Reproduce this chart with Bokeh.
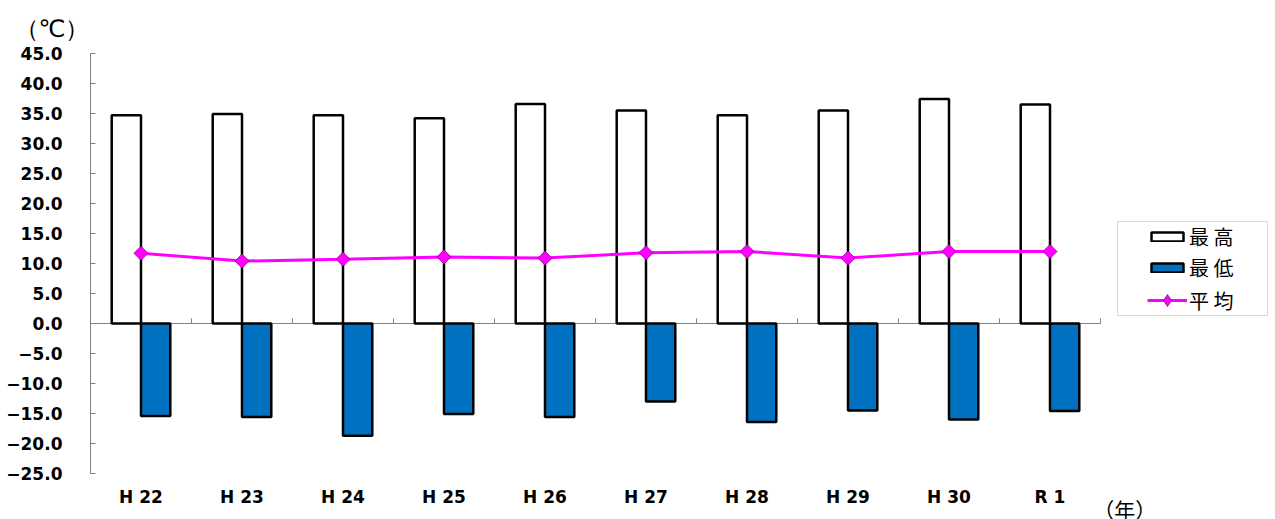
import numpy as np
from bokeh.plotting import figure
from bokeh.models import (ColumnDataSource, FixedTicker, Legend, LegendItem, LinearAxis,
                          Range1d, BoxAnnotation, Title)
from bokeh.embed import file_html
from bokeh.resources import INLINE

# ---- data ----
years = ["H 22", "H 23", "H 24", "H 25", "H 26", "H 27", "H 28", "H 29", "H 30", "R 1"]
high = [34.7, 34.9, 34.7, 34.2, 36.6, 35.5, 34.7, 35.5, 37.4, 36.5]
low = [-15.4, -15.6, -18.7, -15.1, -15.6, -13.0, -16.4, -14.5, -16.0, -14.6]
avg = [11.7, 10.4, 10.7, 11.1, 10.9, 11.8, 12.0, 10.9, 12.0, 12.0]
y_ticks = [-25, -20, -15, -10, -5, 0, 5, 10, 15, 20, 25, 30, 35, 40, 45]
y_tick_labels = ["\u221225.0", "\u221220.0", "\u221215.0", "\u221210.0", "\u22125.0", "0.0",
                 "5.0", "10.0", "15.0", "20.0", "25.0", "30.0", "35.0", "40.0", "45.0"]
series_names = ["最 高", "最 低", "平 均"]
y_unit = "（℃）"
x_unit = "（年）"

GRAY = "#808080"
TICK_FONT = "DejaVu Sans"
CJK = "Noto Sans CJK JP"

n = len(years)
DATA_W = 1010          # pixel width of the category area
FRAME_W = 1180         # frame also hosts the legend on the right
X_UNIT_POS = 10.24     # horizontal place of the "(年)" caption, in category units
xc = np.arange(n) + 0.5
src = ColumnDataSource(dict(x=xc, xh=xc - 0.145, xl=xc + 0.145, high=high, low=low, avg=avg))
bounds = np.arange(n + 1)
tick_src = ColumnDataSource(dict(x=bounds, y0=np.zeros(n + 1), y1=np.full(n + 1, 0.85)))

p = figure(frame_width=FRAME_W, frame_height=420, output_backend="svg", toolbar_location=None,
           x_range=Range1d(0, n * FRAME_W / DATA_W), y_range=Range1d(y_ticks[0], y_ticks[-1]),
           min_border_left=90, min_border_right=0, min_border_top=53, min_border_bottom=30)
p.outline_line_color = None
p.grid.visible = False
p.background_fill_color = "white"

# zero line and category ticks
p.line(x=[bounds[0], bounds[-1]], y=[0, 0], line_color=GRAY, line_width=1)
p.segment(x0="x", y0="y0", x1="x", y1="y1", source=tick_src, line_color=GRAY, line_width=1)

r_high = p.vbar(x="xh", top="high", bottom=0, width=0.29, source=src,
                fill_color="white", line_color="black", line_width=2.5)
r_low = p.vbar(x="xl", top=0, bottom="low", width=0.29, source=src,
               fill_color="#0070C0", line_color="black", line_width=2.5)
r_line = p.line(x="x", y="avg", source=src, line_color="#FF00FF", line_width=3)
r_pts = p.scatter(x="x", y="avg", source=src, marker="square", size=10, angle=np.pi / 4,
                  fill_color="#FF00FF", line_color="#7a007a", line_width=0.7)
# diamond marker used only for the legend swatch (hidden in the plot)
r_leg_pt = p.scatter(x="x", y="avg", source=src, marker="diamond", size=12,
                     fill_color="#FF00FF", line_color="#7a007a", line_width=0.7)
r_leg_pt.visible = False

# y axis
ya = p.yaxis[0]
ya.ticker = FixedTicker(ticks=y_ticks)
ya.major_label_overrides = {t: s for t, s in zip(y_ticks, y_tick_labels)}
ya.axis_line_color = GRAY
ya.major_tick_line_color = GRAY
ya.major_tick_in = 5
ya.major_tick_out = 0
ya.minor_tick_line_color = None
ya.major_label_standoff = 28
ya.major_label_text_font = TICK_FONT
ya.major_label_text_font_style = "bold"
ya.major_label_text_font_size = "17px"
ya.major_label_text_color = "black"

# x axis (labels only)
xa = p.xaxis[0]
xa.ticker = FixedTicker(ticks=list(xc))
xa.major_label_overrides = {float(v): s for v, s in zip(xc, years)}
xa.axis_line_color = None
xa.major_tick_line_color = None
xa.minor_tick_line_color = None
xa.major_label_standoff = 7
xa.major_label_text_font = TICK_FONT
xa.major_label_text_font_style = "bold"
xa.major_label_text_font_size = "17px"
xa.major_label_text_color = "black"

# "(年)" caption as a second, label-only axis
ua = LinearAxis(ticker=FixedTicker(ticks=[X_UNIT_POS]),
                major_label_overrides={X_UNIT_POS: x_unit},
                axis_line_color=None, major_tick_line_color=None, minor_tick_line_color=None,
                major_tick_out=0, major_tick_in=0, major_label_standoff=-16,
                major_label_text_font=CJK, major_label_text_font_size="21px",
                major_label_text_font_style="normal", major_label_text_color="black")
p.add_layout(ua, "below")

# "(℃)" caption
p.add_layout(Title(text=y_unit, align="left", offset=-76, standoff=22,
                   text_font="DejaVu Sans", text_font_size="24px", text_font_style="normal",
                   text_color="black"), "above")

# legend frame
p.add_layout(BoxAnnotation(left=1027, right=1177, top=252, bottom=158,
                           left_units="screen", right_units="screen",
                           top_units="screen", bottom_units="screen",
                           fill_color="white", fill_alpha=1.0, line_color=GRAY, line_width=1,
                           level="annotation"))

common = dict(border_line_color=None, background_fill_alpha=0, padding=0, margin=0,
              label_text_font=CJK, label_text_font_size="20px", label_text_color="black",
              glyph_width=40, label_standoff=2, label_height=27,
              inactive_fill_alpha=0)
leg1 = Legend(items=[LegendItem(label=series_names[0], renderers=[r_high]),
                     LegendItem(label=series_names[1], renderers=[r_low])],
              location=(1057, 191), glyph_height=11, spacing=2, **common)
leg2 = Legend(items=[LegendItem(label=series_names[2], renderers=[r_line, r_leg_pt])],
              location=(1057, 158), glyph_height=30, spacing=0, **common)
p.add_layout(leg1)
p.add_layout(leg2)

open("out.html", "w").write(file_html(p, INLINE))
